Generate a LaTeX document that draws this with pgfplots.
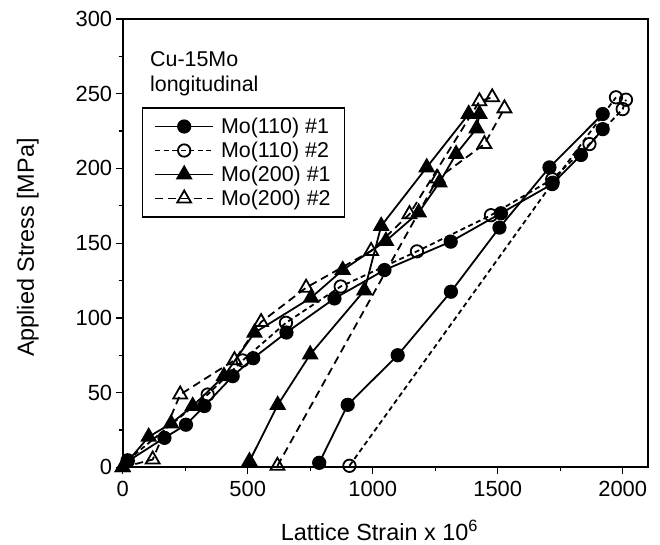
\documentclass[border=0pt]{standalone}
\usepackage{pgfplots}
\pgfplotsset{compat=1.18}
\usepackage{fontspec}
\setmainfont{Liberation Sans}

\begin{document}
\begin{tikzpicture}
\useasboundingbox (-122.7bp,-77.7bp) rectangle (537.3bp,467.3bp);
\begin{axis}[
scale only axis,
width=525bp,height=448.3bp,
xmin=0,xmax=2100,
ymin=0,ymax=300,
xtick={0,500,...,2000},
ytick={0,50,...,300},
minor x tick num=1,
minor y tick num=1,
tick align=outside,
tick pos=left,
major tick length=7bp,
minor tick length=4bp,
axis line style={line width=1.7bp},
every tick/.style={black,line width=1.3bp},
/pgf/number format/assume math mode=true,
/pgf/number format/1000 sep={},
tick label style={font=\fontsize{22}{24}\selectfont},
xticklabel style={yshift=-3bp},
xlabel={Lattice Strain x 10\textsuperscript{6}},
ylabel={Applied Stress [MPa]},
label style={font=\fontsize{23.5}{26}\selectfont},
xlabel style={at={(axis description cs:0.489,0)},anchor=base,yshift=-73bp},
ylabel style={at={(axis description cs:0,0.49)},anchor=center,yshift=95bp},
legend style={at={(rel axis cs:0.036,0.803)},anchor=north west,
  font=\fontsize{21.5}{24}\selectfont,
  draw=black,line width=1.4bp,
  inner xsep=12bp,inner ysep=8bp,row sep=3bp,column sep=5bp},
legend cell align=left,
every axis plot/.append style={line width=1.8bp},
every axis plot post/.append style={
  legend image code/.code={\draw[mark repeat=2,mark phase=2,##1]
  plot coordinates {(0bp,0bp)(29bp,0bp)(58bp,0bp)};}},
]
% Mo(110) #1
\addplot[black,mark=*,mark size=6.2bp] coordinates {
(20,4)(167,19.7)(253,28.5)(327,41)(440,61)(522,73)(655,90.2)(847,113)
(1047,132)(1312,151)(1513,170)(1718,189.5)(1833,209)(1920,226.3)
};
\addlegendentry{Mo(110) \#1}
% Mo(110) #2
\addplot[black,dash pattern=on 5bp off 3.5bp,mark=o,mark size=6.2bp,
  mark options={solid,fill=white}] coordinates {
(20,4.7)(340,48.7)(480,71.5)(653,96.7)(872,121)(1177,144.5)(1473,168.7)
(1718,192.8)(1867,216.3)(2000,239.7)(2013,246)
};
\addlegendentry{Mo(110) \#2}
% Mo(200) #1
\addplot[black,mark=triangle*,mark size=8bp] coordinates {
(0,0)(104,20.4)(193.6,29.3)(280,41)(405,61)(527,90)(753.6,113.5)(880,132)
(1053,151.5)(1184,170.5)(1267,190.6)(1333.6,209.6)(1416,226.8)(1427,236.4)
};
\addlegendentry{Mo(200) \#1}
% Mo(200) #2
\addplot[black,dash pattern=on 8bp off 5bp,mark=triangle,mark size=8bp,
  mark options={solid,fill=white}] coordinates {
(0,0)(120,5.2)(230,48.7)(447,71.7)(553.6,97.2)(733.6,120.2)(993.6,144.8)
(1147,169.4)(1427,244.9)(1478,247.6)
};
\addlegendentry{Mo(200) \#2}
% second loading
\addplot[black,mark=*,mark size=6.2bp,forget plot] coordinates {
(786,3)(900,41.8)(1100,75)(1313,117.5)(1507,160.4)(1707,200.7)(1920,236.4)
};
\addplot[black,dash pattern=on 5bp off 3.5bp,mark=o,mark size=6.2bp,
  mark options={solid,fill=white},forget plot] coordinates {
(907,1)(1720,190.5)(1973,247.6)
};
\addplot[black,mark=triangle*,mark size=8bp,forget plot] coordinates {
(507,4)(620,41.7)(750,75.5)(967,118.4)(1034,161.5)(1216,200.7)(1384,236.4)
};
\addplot[black,dash pattern=on 8bp off 5bp,mark=triangle,mark size=8bp,
  mark options={solid,fill=white},forget plot] coordinates {
(619,1)(1260,193.3)(1447,216.3)(1527,240.2)
};
\node[anchor=base west,font=\fontsize{21.5}{24}\selectfont,inner sep=0pt]
  at (axis cs:109,268) {Cu-15Mo};
\node[anchor=base west,font=\fontsize{21.5}{24}\selectfont,inner sep=0pt]
  at (axis cs:109,251.3) {longitudinal};
\end{axis}
\end{tikzpicture}
\end{document}
